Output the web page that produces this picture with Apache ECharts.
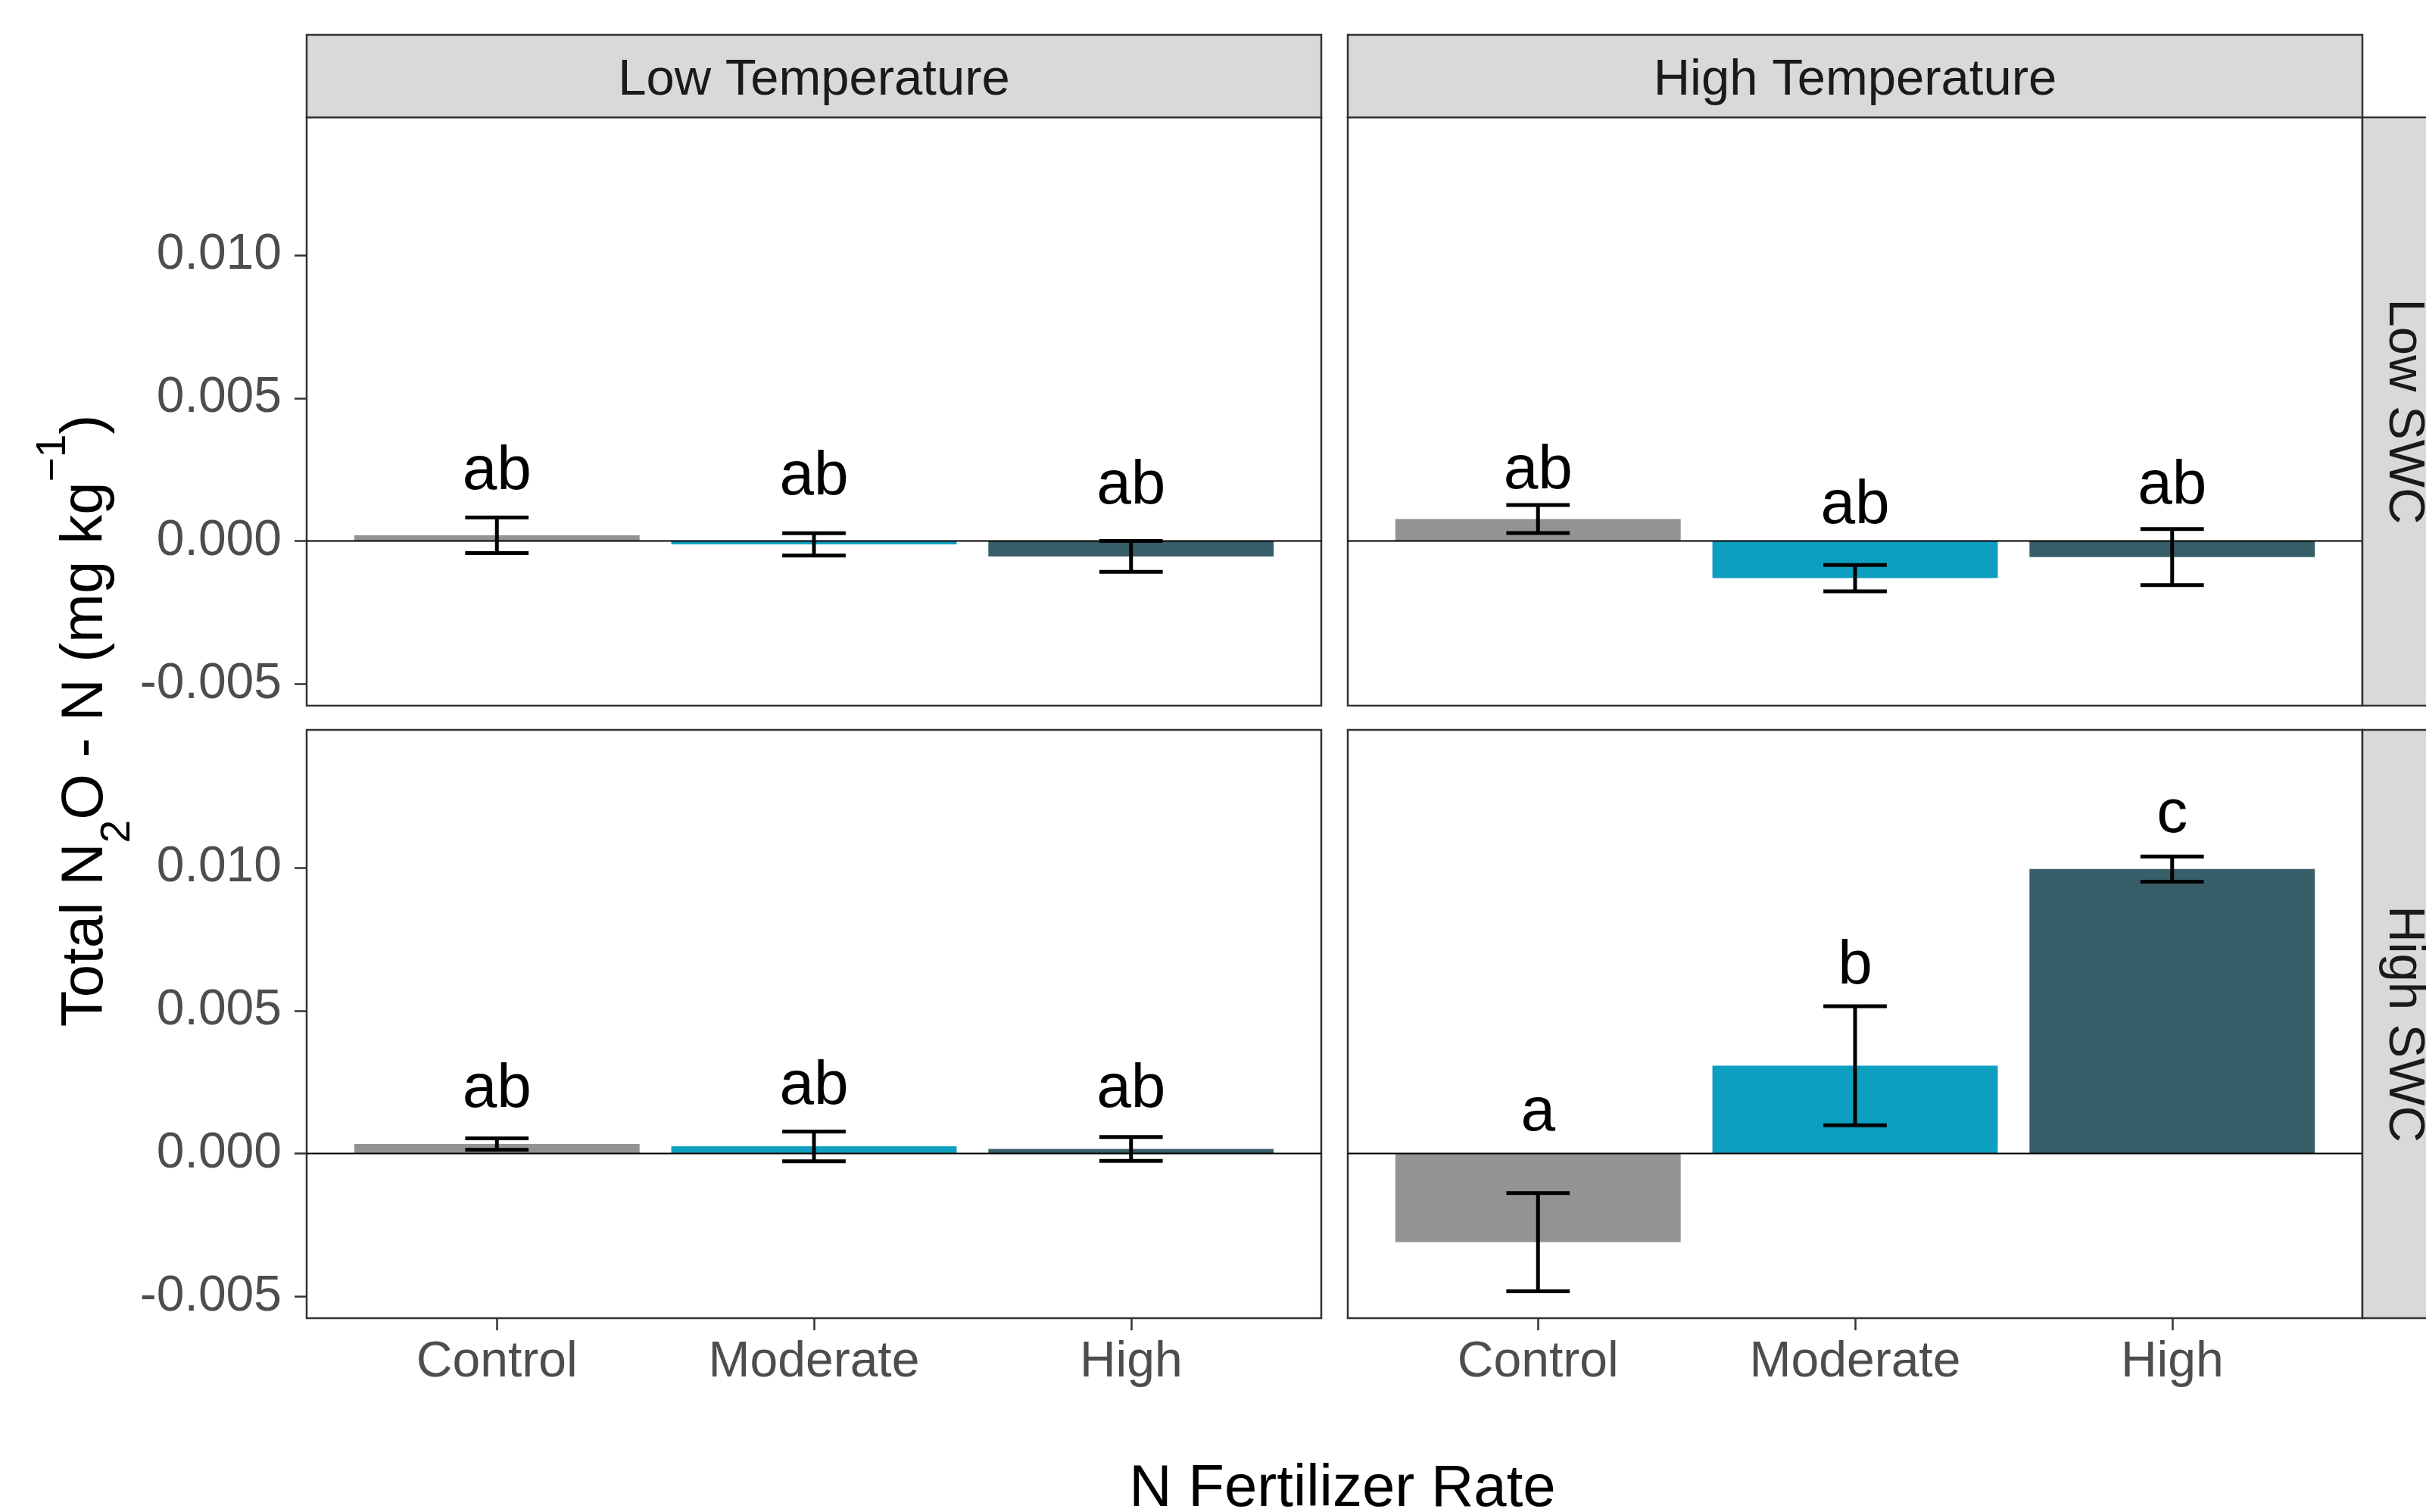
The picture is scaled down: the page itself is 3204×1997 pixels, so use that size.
<!DOCTYPE html>
<html><head><meta charset="utf-8">
<script src="https://cdn.jsdelivr.net/npm/echarts@6/dist/echarts.min.js"></script>
<style>html,body{margin:0;padding:0;background:#fff}#c{width:3204px;height:1997px}</style>
</head><body><div id="c"></div>
<script>
// ---------------- data ----------------
const categories = ['Control', 'Moderate', 'High'];
const temperatures = ['Low Temperature', 'High Temperature'];
const waterContents = ['Low SWC', 'High SWC'];
const yTickValues = [-0.005, 0, 0.005, 0.010];
const xTitle = 'N Fertilizer Rate';

// Low SWC row
const meanLowTempLowSWC  = [0.00020, -0.00012, -0.00054];
const seLowTempLowSWC    = [0.00062,  0.00039,  0.00054];
const meanHighTempLowSWC = [0.00077, -0.00130, -0.00056];
const seHighTempLowSWC   = [0.00049,  0.00046,  0.00098];
// High SWC row
const meanLowTempHighSWC  = [0.00033, 0.00025, 0.00016];
const seLowTempHighSWC    = [0.00020, 0.00052, 0.00042];
const meanHighTempHighSWC = [-0.00310, 0.00307, 0.00995];
const seHighTempHighSWC   = [0.00172, 0.00208, 0.00044];

// significance letters and their y positions
const lettersLowTempLowSWC   = ['ab', 'ab', 'ab'];
const letterYLowTempLowSWC   = [0.00242, 0.00224, 0.00190];
const lettersHighTempLowSWC  = ['ab', 'ab', 'ab'];
const letterYHighTempLowSWC  = [0.00244, 0.00122, 0.00190];
const lettersLowTempHighSWC  = ['ab', 'ab', 'ab'];
const letterYLowTempHighSWC  = [0.00224, 0.00234, 0.00224];
const lettersHighTempHighSWC = ['a', 'b', 'c'];
const letterYHighTempHighSWC = [0.00142, 0.00655, 0.01185];

// ---------------- styling / layout ----------------
const FONT = 'Liberation Sans, Arial, Helvetica, sans-serif';
const barColors = ['#939393', '#0C9FC0', '#375E69'];
const colX = [405, 1780], rowY = [155, 964], PW = 1340, PH = 777;
const Y_MIN = -0.00576, Y_MAX = 0.01482;

const panels = [
  {c: 0, r: 0, mean: meanLowTempLowSWC,   se: seLowTempLowSWC,   lab: lettersLowTempLowSWC,   labY: letterYLowTempLowSWC},
  {c: 1, r: 0, mean: meanHighTempLowSWC,  se: seHighTempLowSWC,  lab: lettersHighTempLowSWC,  labY: letterYHighTempLowSWC},
  {c: 0, r: 1, mean: meanLowTempHighSWC,  se: seLowTempHighSWC,  lab: lettersLowTempHighSWC,  labY: letterYLowTempHighSWC},
  {c: 1, r: 1, mean: meanHighTempHighSWC, se: seHighTempHighSWC, lab: lettersHighTempHighSWC, labY: letterYHighTempHighSWC}
];

const grids = [], xAxes = [], yAxes = [], series = [];
panels.forEach((p, i) => {
  grids.push({left: colX[p.c], top: rowY[p.r], width: PW, height: PH, show: true,
    backgroundColor: '#fff', borderColor: '#333333', borderWidth: 2.5,
    containLabel: false, outerBoundsMode: 'none'});
  const bottomRow = p.r === 1, leftCol = p.c === 0;
  xAxes.push({gridIndex: i, type: 'value', min: 0.4, max: 3.6, position: 'bottom',
    axisLine: {show: false, onZero: false}, splitLine: {show: false},
    axisTick: {show: bottomRow, customValues: [1, 2, 3], length: 16, lineStyle: {color: '#333333', width: 2.5}},
    axisLabel: {show: bottomRow, customValues: [1, 2, 3], margin: 26, fontSize: 66, fontFamily: FONT, color: '#4D4D4D',
      formatter: v => categories[Math.round(v) - 1] || ''}});
  yAxes.push({gridIndex: i, type: 'value', min: Y_MIN, max: Y_MAX, position: 'left',
    axisLine: {show: false, onZero: false}, splitLine: {show: false},
    axisTick: {show: leftCol, customValues: yTickValues, length: 16, lineStyle: {color: '#333333', width: 2.5}},
    axisLabel: {show: leftCol, customValues: yTickValues, margin: 33, fontSize: 66, fontFamily: FONT, color: '#4D4D4D',
      padding: [6, 0, 0, 0],
      formatter: v => (Math.abs(v) < 1e-12 ? 0 : v).toFixed(3)}});

  const data = categories.map((c, k) => [k + 1, p.mean[k], p.se[k], k]);
  series.push({type: 'custom', xAxisIndex: i, yAxisIndex: i, z: 2, silent: true,
    encode: {x: 0, y: 1}, data: data,
    renderItem: (params, api) => {
      const x = api.value(0), m = api.value(1);
      const a = api.coord([x - 0.45, m]), b = api.coord([x + 0.45, 0]);
      return {type: 'rect', shape: {x: a[0], y: Math.min(a[1], b[1]), width: b[0] - a[0], height: Math.abs(b[1] - a[1])},
        style: {fill: barColors[api.value(3)]}};
    }});
  series.push({type: 'line', xAxisIndex: i, yAxisIndex: i, z: 3, silent: true, symbol: 'none',
    data: [[0.4, 0], [3.6, 0]], lineStyle: {color: '#000', width: 2}});
  series.push({type: 'custom', xAxisIndex: i, yAxisIndex: i, z: 4, silent: true,
    encode: {x: 0, y: 1}, data: data,
    renderItem: (params, api) => {
      const x = api.value(0), m = api.value(1), s = api.value(2);
      const top = api.coord([x, m + s]), bot = api.coord([x, m - s]);
      const l = api.coord([x - 0.1, m])[0], r = api.coord([x + 0.1, m])[0];
      const st = {stroke: '#000', lineWidth: 5};
      return {type: 'group', children: [
        {type: 'line', shape: {x1: top[0], y1: top[1], x2: bot[0], y2: bot[1]}, style: st},
        {type: 'line', shape: {x1: l, y1: top[1], x2: r, y2: top[1]}, style: st},
        {type: 'line', shape: {x1: l, y1: bot[1], x2: r, y2: bot[1]}, style: st}
      ]};
    }});
  series.push({type: 'custom', xAxisIndex: i, yAxisIndex: i, z: 5, silent: true,
    encode: {x: 0, y: 1}, data: categories.map((c, k) => [k + 1, p.labY[k], k]),
    renderItem: (params, api) => {
      const k = api.value(2);
      const pt = api.coord([api.value(0), api.value(1)]);
      return {type: 'text', x: pt[0], y: pt[1],
        style: {text: p.lab[k], fontSize: 82, fontFamily: FONT, fill: '#000',
          align: 'center', verticalAlign: 'middle'}};
    }});
});

const stripStyle = {fill: '#D9D9D9', stroke: '#333333', lineWidth: 2.5};
const graphics = [];
temperatures.forEach((t, c) => {
  graphics.push({type: 'rect', z: 10, shape: {x: colX[c], y: 46, width: PW, height: 109}, style: stripStyle});
  graphics.push({type: 'text', z: 11, x: colX[c] + PW / 2, y: 107,
    style: {text: t, fontSize: 67, fontFamily: FONT, fill: '#1A1A1A', align: 'center', verticalAlign: 'middle'}});
});
waterContents.forEach((w, r) => {
  graphics.push({type: 'rect', z: 10, shape: {x: 3120, y: rowY[r], width: 111, height: PH}, style: stripStyle});
  graphics.push({type: 'text', z: 11, x: 3174, y: rowY[r] + PH / 2, rotation: -Math.PI / 2,
    style: {text: w, fontSize: 67, fontFamily: FONT, fill: '#1A1A1A', align: 'center', verticalAlign: 'middle'}});
});
graphics.push({type: 'text', z: 11, x: 1773, y: 1967,
  style: {text: xTitle, fontSize: 78, fontFamily: FONT, fill: '#000', align: 'center', verticalAlign: 'middle'}});
graphics.push({type: 'text', z: 11, x: 113, y: 952, rotation: Math.PI / 2,
  style: {text: '{m|Total N}{s|2}{m|O - N (mg kg}{p|\u22121}{m|)}',
    align: 'center', verticalAlign: 'middle',
    rich: {
      m: {fontSize: 78, lineHeight: 140, verticalAlign: 'middle', fontFamily: FONT, fill: '#000'},
      s: {fontSize: 55, lineHeight: 118, verticalAlign: 'bottom', fontFamily: FONT, fill: '#000'},
      p: {fontSize: 55, lineHeight: 84, verticalAlign: 'top', fontFamily: FONT, fill: '#000'}
    }}});

const chart = echarts.init(document.getElementById('c'), null, {renderer: 'canvas'});
chart.setOption({
  animation: false,
  backgroundColor: '#fff',
  grid: grids, xAxis: xAxes, yAxis: yAxes, series: series, graphic: graphics
});
</script></body></html>
